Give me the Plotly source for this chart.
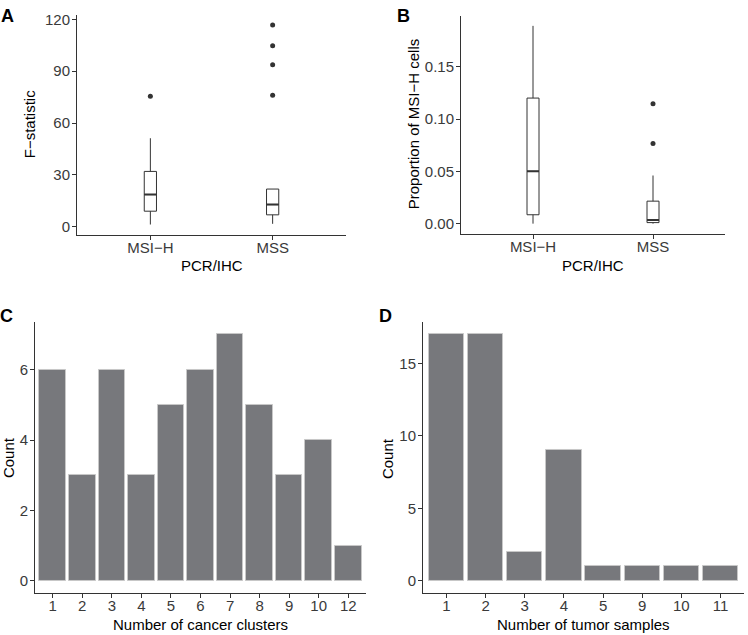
import plotly.graph_objects as go

W, H = 748, 635

# ---------------- data ----------------
groups = ["MSI−H", "MSS"]

# Panel A: F-statistic box summaries
a_q1 = [9.0, 6.9]
a_median = [18.6, 12.8]
a_q3 = [32.0, 21.8]
a_lower = [1.3, 1.7]
a_upper = [51.2, 21.8]
a_out_msih = [75.5]
a_out_mss = [76.1, 93.7, 104.7, 116.7]

# Panel B: proportion of MSI-H cells box summaries
b_q1 = [0.0085, 0.001]
b_median = [0.050, 0.0035]
b_q3 = [0.120, 0.0215]
b_lower = [0.0, 0.0]
b_upper = [0.189, 0.046]
b_out_msih = []
b_out_mss = [0.0765, 0.1145]

# Panel C: number of cancer clusters
c_cats = ["1", "2", "3", "4", "5", "6", "7", "8", "9", "10", "12"]
c_counts = [6, 3, 6, 3, 5, 6, 7, 5, 3, 4, 1]

# Panel D: number of tumor samples
d_cats = ["1", "2", "3", "4", "5", "9", "10", "11"]
d_counts = [17, 17, 2, 9, 1, 1, 1, 1]

# ---------------- style ----------------
FONT = "Liberation Sans, Arial, Helvetica, sans-serif"
AXC = "#333333"
TICKC = "#3a3a3a"
BARC = "#77787c"
BOXW = 0.1


def px_dom_x(a, b):
    return [a / W, b / W]


def px_dom_y(top, bottom):
    return [1 - bottom / H, 1 - top / H]


fig = go.Figure()


def add_box(xa, ya, q1, med, q3, lo, hi, outs):
    pos = [1, 2]
    fig.add_trace(go.Box(
        x=pos, q1=q1, median=med, q3=q3, lowerfence=lo, upperfence=hi,
        width=BOXW, whiskerwidth=0, boxpoints=False,
        fillcolor="white", line=dict(color=AXC, width=1),
        xaxis=xa, yaxis=ya, showlegend=False, hoverinfo="skip"))
    # thicker median, like ggplot
    for p, m in zip(pos, med):
        fig.add_trace(go.Scatter(
            x=[p - BOXW / 2, p + BOXW / 2], y=[m, m], mode="lines",
            line=dict(color=AXC, width=2), xaxis=xa, yaxis=ya,
            showlegend=False, hoverinfo="skip"))
    for p, vals in zip(pos, outs):
        if vals:
            fig.add_trace(go.Scatter(
                x=[p] * len(vals), y=vals, mode="markers",
                marker=dict(color=AXC, size=5), xaxis=xa, yaxis=ya,
                showlegend=False, hoverinfo="skip"))


add_box("x", "y", a_q1, a_median, a_q3, a_lower, a_upper, [a_out_msih, a_out_mss])
add_box("x2", "y2", b_q1, b_median, b_q3, b_lower, b_upper, [b_out_msih, b_out_mss])

fig.add_trace(go.Bar(x=list(range(1, len(c_cats) + 1)), y=c_counts, width=0.9,
                     marker=dict(color=BARC, line=dict(color="#c8c8c8", width=1)),
                     xaxis="x3", yaxis="y3", showlegend=False, hoverinfo="skip"))
fig.add_trace(go.Bar(x=list(range(1, len(d_cats) + 1)), y=d_counts, width=0.9,
                     marker=dict(color=BARC, line=dict(color="#c8c8c8", width=1)),
                     xaxis="x4", yaxis="y4", showlegend=False, hoverinfo="skip"))

axis_common = dict(showline=True, linecolor=AXC, linewidth=1, ticks="outside",
                   ticklen=4, tickcolor=AXC, tickwidth=1, showgrid=False,
                   zeroline=False, tickfont=dict(family=FONT, size=15, color=TICKC))
xaxis_common = dict(axis_common, ticklabelstandoff=-5)
yaxis_common = dict(axis_common, ticklabelstandoff=-1)

fig.update_layout(
    width=W, height=H, margin=dict(l=0, r=0, t=0, b=0),
    plot_bgcolor="white", paper_bgcolor="white", bargap=0,
    font=dict(family=FONT),
    xaxis=dict(domain=px_dom_x(77, 346), range=[0.4, 2.6], tickmode="array",
               tickvals=[1, 2], ticktext=groups, anchor="y", **xaxis_common),
    yaxis=dict(domain=px_dom_y(11, 232), range=[-4.5, 122.5], tickmode="array",
               tickvals=[0, 30, 60, 90, 120], anchor="x", **yaxis_common),
    xaxis2=dict(domain=px_dom_x(461, 725), range=[0.4, 2.6], tickmode="array",
                tickvals=[1, 2], ticktext=groups, anchor="y2", **xaxis_common),
    yaxis2=dict(domain=px_dom_y(12, 231), range=[-0.00945, 0.1985], tickmode="array",
                tickvals=[0, 0.05, 0.10, 0.15],
                ticktext=["0.00", "0.05", "0.10", "0.15"], anchor="x2", **yaxis_common),
    xaxis3=dict(domain=px_dom_x(35, 366), range=[0.4, len(c_cats) + 0.6], tickmode="array",
                tickvals=list(range(1, len(c_cats) + 1)), ticktext=c_cats,
                anchor="y3", **xaxis_common),
    yaxis3=dict(domain=px_dom_y(320, 593), range=[-0.35, 7.35], tickmode="array",
                tickvals=[0, 2, 4, 6], anchor="x3", **yaxis_common),
    xaxis4=dict(domain=px_dom_x(423, 744), range=[0.4, len(d_cats) + 0.6], tickmode="array",
                tickvals=list(range(1, len(d_cats) + 1)), ticktext=d_cats,
                anchor="y4", **xaxis_common),
    yaxis4=dict(domain=px_dom_y(320, 593), range=[-0.85, 17.85], tickmode="array",
                tickvals=[0, 5, 10, 15], anchor="x4", **yaxis_common),
)


def ann(text, x, y, size=15, bold=False, angle=0, color="black"):
    fig.add_annotation(
        text=f"<b>{text}</b>" if bold else text, x=x / W, y=1 - y / H,
        xref="paper", yref="paper", showarrow=False, textangle=angle,
        xanchor="center", yanchor="middle",
        font=dict(family=FONT, size=size, color=color))


# panel labels
ann("A", 8, 12.5, size=18, bold=True)
ann("B", 403, 12.5, size=18, bold=True)
ann("C", 7, 313.5, size=18, bold=True)
ann("D", 386, 313.5, size=18, bold=True)

# axis titles
ann("F−statistic", 29, 121, angle=-90)
ann("PCR/IHC", 211.5, 263)
ann("Proportion of MSI−H cells", 413, 121, angle=-90)
ann("PCR/IHC", 593, 263)
ann("Count", 8, 457, angle=-90)
ann("Number of cancer clusters", 200, 624)
ann("Count", 387, 457, angle=-90)
ann("Number of tumor samples", 583, 624)

fig.write_html("out.html")
